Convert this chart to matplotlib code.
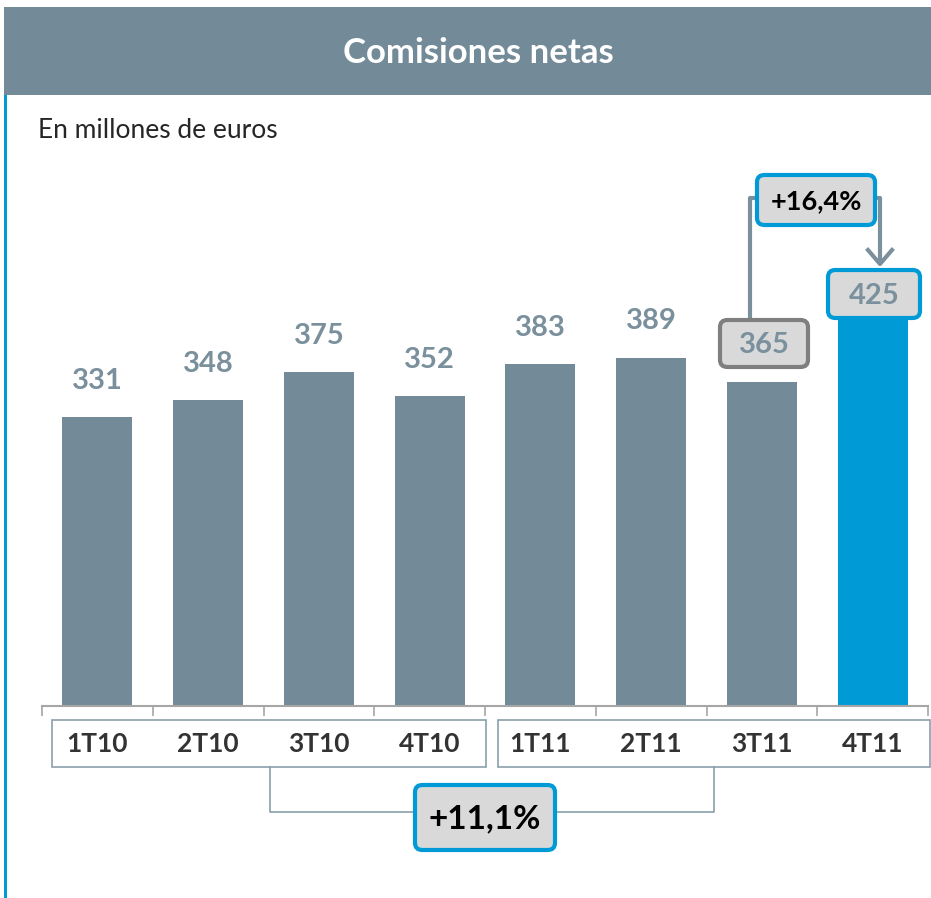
import matplotlib
matplotlib.use("Agg")
import matplotlib.pyplot as plt
from matplotlib.patches import Rectangle, FancyBboxPatch
from matplotlib.lines import Line2D

plt.rcParams['font.family'] = ['Lato', 'DejaVu Sans']

# data
quarters = ['1T10', '2T10', '3T10', '4T10', '1T11', '2T11', '3T11', '4T11']
values = [331, 348, 375, 352, 383, 389, 365, 425]
growth_q = '+16,4%'
growth_y = '+11,1%'
title = 'Comisiones netas'
subtitle = 'En millones de euros'

GREY = '#738b98'
BLUE = '#009ad6'
LABEL = '#7a909c'
BOXFILL = '#d9d9d9'

W, H = 931, 898
fig = plt.figure(figsize=(W / 100, H / 100), dpi=100)


def fx(x):
    return x / W


def fy(y):
    return 1 - y / H


def frect(x0, y0, x1, y1, **kw):
    return Rectangle((fx(x0), fy(y1)), fx(x1) - fx(x0), fy(y0) - fy(y1),
                     transform=fig.transFigure, **kw)


def fbox(x0, y0, x1, y1, ec, lw=3):
    r = 0.008
    return FancyBboxPatch((fx(x0) + r, fy(y1) + r), fx(x1) - fx(x0) - 2 * r,
                          fy(y0) - fy(y1) - 2 * r,
                          boxstyle='round,pad=%f,rounding_size=0.008' % r,
                          transform=fig.transFigure, fc=BOXFILL, ec=ec, lw=lw,
                          zorder=5)


def fline(xs, ys, **kw):
    fig.add_artist(Line2D([fx(x) for x in xs], [fy(y) for y in ys],
                          transform=fig.transFigure, **kw))


# header band and left rule
fig.add_artist(frect(4, 7, 931, 95, fc=GREY, ec='none'))
fig.add_artist(frect(4, 95, 7, 898, fc=BLUE, ec='none'))
fig.text(fx(478), fy(53), title, color='white', fontsize=25, fontweight='bold',
         ha='center', va='center')
fig.text(fx(38), fy(130), subtitle, color='#262626', fontsize=19,
         ha='left', va='center')

# bars
ax = fig.add_axes([fx(42), fy(706), fx(928) - fx(42), fy(160) - fy(706)])
colors = [GREY] * 7 + [BLUE]
x = list(range(len(values)))
ax.bar(x, values, width=0.63, color=colors, zorder=2)
ax.set_xlim(-0.5, len(values) - 0.5)
ax.set_ylim(52, 580)
for s in ['top', 'left', 'right']:
    ax.spines[s].set_visible(False)
ax.spines['bottom'].set_color('#a6a6a6')
ax.spines['bottom'].set_linewidth(1.5)
ax.set_yticks([])
ax.set_xticks([i - 0.5 for i in range(len(values) + 1)])
ax.set_xticklabels([])
ax.tick_params(axis='x', length=7, width=1.2, color='#a6a6a6', direction='out')

for i, v in enumerate(values[:6]):
    ax.annotate(str(v), (i, v), xytext=(0, 26), textcoords='offset points',
                ha='center', va='center', fontsize=21, fontweight='bold',
                color=LABEL)

# boxed labels for last two quarters
fig.add_artist(fbox(720, 320, 808, 367, ec='#7f7f7f'))
fig.add_artist(fbox(828, 270, 920, 318, ec=BLUE))
fig.text(fx(764), fy(345), str(values[6]), ha='center', va='center', fontsize=21,
         fontweight='bold', color=LABEL, zorder=6)
fig.text(fx(874), fy(296), str(values[7]), ha='center', va='center', fontsize=21,
         fontweight='bold', color=LABEL, zorder=6)

# quarter growth callout
fline([750, 750, 757], [320, 198, 198], color=LABEL, lw=3, zorder=4)
fline([875, 880, 880], [198, 198, 262], color=LABEL, lw=3, zorder=4)
fline([868, 880, 892], [250, 264, 250], color=LABEL, lw=3, zorder=4)
fig.add_artist(fbox(757, 175, 875, 225, ec=BLUE))
fig.text(fx(816), fy(201), growth_q, fontsize=19.5, fontweight='bold',
         color='black', ha='center', va='center', zorder=6)

# category label boxes
fig.add_artist(frect(52, 720, 486, 767, fc='white', ec='#8aa0ab', lw=1.2))
fig.add_artist(frect(498, 720, 930, 767, fc='white', ec='#8aa0ab', lw=1.2))
for i, q in enumerate(quarters):
    xf = fig.transFigure.inverted().transform(ax.transData.transform((i, 0)))[0]
    fig.text(xf, fy(744), q, fontsize=19, fontweight='bold', color='#333333',
             ha='center', va='center')

# year growth bracket
fline([270, 270, 415], [767, 812, 812], color='#8aa0ab', lw=1.2)
fline([555, 714, 714], [812, 812, 767], color='#8aa0ab', lw=1.2)
fig.add_artist(fbox(415, 785, 555, 850, ec=BLUE))
fig.text(fx(485), fy(819), growth_y, fontsize=24, fontweight='bold',
         color='black', ha='center', va='center', zorder=6)

fig.savefig('out.png', dpi=100)
